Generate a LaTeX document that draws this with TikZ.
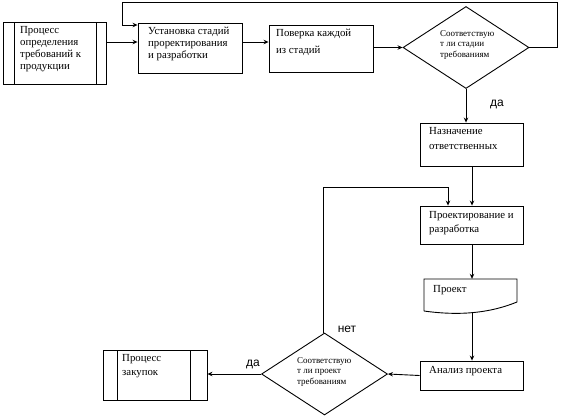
\documentclass[tikz,border=0pt]{standalone}
\usepackage{fontspec}
\setmainfont{Liberation Serif}
\newfontfamily\lsans{Liberation Sans}
\usetikzlibrary{arrows.meta,shapes.geometric}
\begin{document}
\begin{tikzpicture}[x=1pt,y=-1pt,
  box/.style={draw,line width=0.9pt,inner sep=0pt,rectangle},
  dia/.style={draw,line width=0.9pt,inner sep=0pt,diamond,minimum width=126pt,minimum height=82pt},
  txt/.style={inner sep=0pt,anchor=north west,align=left,font=\fontsize{10.8}{12}\selectfont},
  dtxt/.style={inner sep=0pt,anchor=north west,align=left,font=\fontsize{9}{10.5}\selectfont},
  lbl/.style={inner sep=0pt,font=\lsans\fontsize{12}{14}\selectfont},
  arr/.style={line width=0.9pt,-{Stealth[length=5pt,width=4.5pt]}},
  ln/.style={line width=0.9pt}]
\useasboundingbox (0,0) rectangle (561,416);
% boxes
\node[box,minimum width=103pt,minimum height=62pt] (b1) at (54.5,53) {};
\draw[ln] (14,23) -- (14,84) (96,23) -- (96,84);
\node[box,minimum width=104pt,minimum height=50pt] (b2) at (190,48) {};
\node[box,minimum width=104pt,minimum height=47pt] (b3) at (321,48.5) {};
\node[dia] (d1) at (466,47.5) {};
\node[box,minimum width=103pt,minimum height=43pt] (b4) at (471.5,144.5) {};
\node[box,minimum width=103pt,minimum height=38pt] (b5) at (471.5,225) {};
\node[inner sep=0pt,minimum width=93pt,minimum height=33pt] (doc) at (470.5,295.5) {};
\draw[ln] (424,311) -- (424,279) -- (517,279) -- (517,302)
  .. controls (490,313) and (460,316) .. (424,311);
\node[box,minimum width=103pt,minimum height=29pt] (an) at (471.5,375.5) {};
\node[dia] (d2) at (324.5,374) {};
\node[box,minimum width=104pt,minimum height=50pt] (b6) at (155,375) {};
\draw[ln] (117,350) -- (117,400) (190,350) -- (190,400);
% texts
\node[txt] (t1) at (20,26) {Процесс\\определения\\требований к\\продукции};
\node[txt] (t2) at (148,27) {Установка стадий\\проректирования\\и разработки};
\node[txt,font=\fontsize{10.8}{17}\selectfont] (t3) at (276,29) {Поверка каждой\\из стадий};
\node[dtxt] (t4) at (440,30) {Соответствую\\т ли стадии\\требованиям};
\node[txt,font=\fontsize{10.8}{15}\selectfont] (t5) at (429,127) {Назначение\\ответственных};
\node[txt,font=\fontsize{10.8}{14}\selectfont] (t6) at (429,211) {Проектирование и\\разработка};
\node[txt] (t7) at (433,285) {Проект};
\node[txt] (t8) at (429,366) {Анализ проекта};
\node[dtxt] (t9) at (297,357) {Соответствую\\т ли проект\\требованиям};
\node[txt,font=\fontsize{10.8}{14}\selectfont] (t10) at (122,354) {Процесс\\закупок};
% labels
\node[lbl] (l1) at (497,104) {да};
\node[lbl] (l2) at (347,329) {нет};
\node[lbl] (l3) at (253,364) {да};
% coordinates
\coordinate (y42) at (0,42);
\coordinate (y25) at (0,25);
\coordinate (r1) at (557,2);
\coordinate (r2) at (122,2);
\coordinate (m1) at (323,187);
\coordinate (m2) at (448,187);
\coordinate (x472) at (472,0);
% connectors
\draw[arr] (b1.east |- y42) -- (b2.west |- y42);
\draw[arr] (b2.east |- y42) -- (b3.west |- y42);
\draw[arr] (b3.east |- d1.west) -- (d1.west);
\draw[arr] (d1.east) -- (d1.east -| r1) -- (r1) -- (r2) -- (r2 |- y25) -- (b2.west |- y25);
\draw[arr] (d1.south) -- (d1.south |- b4.north);
\draw[arr] (b4.south -| x472) -- (b5.north -| x472);
\draw[arr] (d2.north -| m1) -- (m1) -- (m2) -- (m2 |- b5.north);
\draw[arr] (b5.south -| x472) -- (doc.north -| x472);
\draw[arr] (doc.south -| x472) -- (an.north -| x472);
\draw[arr] (an.west) -- (d2.east);
\draw[arr] (d2.west) -- (b6.east |- d2.west);
\end{tikzpicture}
\end{document}
